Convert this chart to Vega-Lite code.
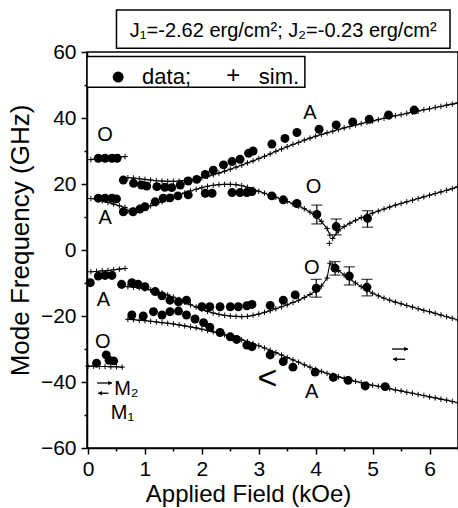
{
"$schema": "https://vega.github.io/schema/vega-lite/v6.json",
"width": 371, "height": 396,
"autosize": {"type": "none"},
"padding": {"left": 87, "top": 52, "right": 0, "bottom": 60},
"config": {"view": {"stroke": "black", "strokeWidth": 1.5}, "font": "Liberation Sans",
  "axis": {"grid": false, "domainColor": "black", "tickColor": "black", "labelColor": "black", "titleColor": "black", "domainWidth": 1.5, "tickWidth": 1.5, "labelFontSize": 21, "titleFontSize": 24, "titleFontWeight": "normal", "labelFlush": false}},
"datasets": {
 "dots": [
  {"x":0.18,"y":27.8},{"x":0.30,"y":27.8},{"x":0.42,"y":27.8},{"x":0.51,"y":27.8},
  {"x":0.18,"y":15.7},{"x":0.30,"y":15.7},{"x":0.42,"y":15.7},{"x":0.50,"y":15.5},
  {"x":0.62,"y":21.2},{"x":0.80,"y":20.2},{"x":0.94,"y":19.7},{"x":1.03,"y":19.4},{"x":1.21,"y":19.2},{"x":1.35,"y":19.0},{"x":1.47,"y":18.9},{"x":1.62,"y":19.7},{"x":1.76,"y":20.9},{"x":1.91,"y":21.4},{"x":2.06,"y":22.9},{"x":2.20,"y":24.2},{"x":2.38,"y":25.8},{"x":2.53,"y":26.8},{"x":2.67,"y":27.5},{"x":2.82,"y":29.3},{"x":2.90,"y":30.0},{"x":3.23,"y":32.1},{"x":3.46,"y":33.8},{"x":3.67,"y":35.6},{"x":4.06,"y":36.6},{"x":4.36,"y":37.9},{"x":4.65,"y":38.8},{"x":4.94,"y":39.6},{"x":5.28,"y":40.9},{"x":5.73,"y":42.4},
  {"x":0.62,"y":11.6},{"x":0.79,"y":11.6},{"x":0.91,"y":12.4},{"x":1.00,"y":13.1},{"x":1.18,"y":14.6},{"x":1.32,"y":15.7},{"x":1.44,"y":15.8},{"x":1.58,"y":16.4},{"x":1.76,"y":16.7},{"x":2.06,"y":17.2},{"x":2.18,"y":17.2},{"x":2.53,"y":17.4},{"x":2.67,"y":17.4},{"x":2.79,"y":17.4},{"x":2.88,"y":17.7},{"x":3.23,"y":16.4},{"x":3.43,"y":15.2},{"x":3.67,"y":14.1},{"x":4.02,"y":10.8},{"x":4.36,"y":7.1},{"x":4.91,"y":9.6},
  {"x":0.04,"y":-9.9},{"x":0.18,"y":-7.9},{"x":0.30,"y":-7.7},{"x":0.42,"y":-7.7},
  {"x":0.59,"y":-10.4},{"x":0.77,"y":-9.9},{"x":0.88,"y":-10.4},{"x":1.00,"y":-11.1},{"x":1.18,"y":-12.6},{"x":1.30,"y":-13.9},{"x":1.44,"y":-15.2},{"x":1.59,"y":-15.7},{"x":1.73,"y":-15.2},{"x":2.00,"y":-17.2},{"x":2.14,"y":-17.2},{"x":2.32,"y":-17.2},{"x":2.50,"y":-17.2},{"x":2.64,"y":-17.2},{"x":2.79,"y":-16.9},{"x":2.88,"y":-16.5},{"x":3.20,"y":-16.8},{"x":3.43,"y":-15.2},{"x":3.64,"y":-13.6},{"x":4.01,"y":-11.6},{"x":4.34,"y":-5.5},{"x":4.59,"y":-7.9},{"x":4.90,"y":-11.3},
  {"x":0.15,"y":-34.3},{"x":0.32,"y":-31.8},{"x":0.37,"y":-33.4},{"x":0.45,"y":-33.6},
  {"x":0.77,"y":-19.7},{"x":0.97,"y":-20.0},{"x":1.15,"y":-18.7},{"x":1.30,"y":-19.7},{"x":1.44,"y":-18.7},{"x":1.59,"y":-18.5},{"x":1.73,"y":-19.7},{"x":1.88,"y":-20.9},{"x":2.03,"y":-22.0},{"x":2.14,"y":-23.4},{"x":2.32,"y":-25.0},{"x":2.50,"y":-26.3},{"x":2.61,"y":-27.1},{"x":2.79,"y":-28.8},{"x":2.88,"y":-29.3},{"x":3.20,"y":-31.8},{"x":3.43,"y":-33.8},{"x":3.60,"y":-35.5},{"x":3.99,"y":-37.0},{"x":4.31,"y":-38.6},{"x":4.57,"y":-39.5},{"x":4.87,"y":-41.2},{"x":5.22,"y":-41.4}
 ],
 "sim": [
  {"c":"a","x":0.05,"y":27.4},{"c":"a","x":0.15,"y":27.6},{"c":"a","x":0.25,"y":27.8},{"c":"a","x":0.35,"y":27.9},{"c":"a","x":0.45,"y":28.1},{"c":"a","x":0.55,"y":28.2},{"c":"a","x":0.65,"y":28.3},
  {"c":"b","x":0.05,"y":15.6},{"c":"b","x":0.15,"y":15.3},{"c":"b","x":0.25,"y":14.9},{"c":"b","x":0.35,"y":14.4},{"c":"b","x":0.45,"y":13.9},{"c":"b","x":0.55,"y":13.4},{"c":"b","x":0.65,"y":12.9},
  {"c":"c","x":0.7,"y":21.9},{"c":"c","x":0.8,"y":21.8},{"c":"c","x":0.9,"y":21.6},{"c":"c","x":1.0,"y":21.4},{"c":"c","x":1.1,"y":21.2},{"c":"c","x":1.2,"y":21.0},{"c":"c","x":1.3,"y":20.9},{"c":"c","x":1.4,"y":20.8},{"c":"c","x":1.5,"y":20.8},{"c":"c","x":1.6,"y":20.9},{"c":"c","x":1.7,"y":21.1},{"c":"c","x":1.8,"y":21.3},{"c":"c","x":1.9,"y":21.6},{"c":"c","x":2.0,"y":21.9},{"c":"c","x":2.1,"y":22.3},{"c":"c","x":2.2,"y":22.8},{"c":"c","x":2.3,"y":23.3},{"c":"c","x":2.4,"y":23.9},{"c":"c","x":2.5,"y":24.5},{"c":"c","x":2.6,"y":25.1},{"c":"c","x":2.7,"y":25.7},{"c":"c","x":2.8,"y":26.4},{"c":"c","x":2.9,"y":27.0},{"c":"c","x":3.0,"y":27.7},{"c":"c","x":3.1,"y":28.4},{"c":"c","x":3.2,"y":29.1},{"c":"c","x":3.3,"y":29.9},{"c":"c","x":3.4,"y":30.6},{"c":"c","x":3.5,"y":31.3},{"c":"c","x":3.6,"y":32.0},{"c":"c","x":3.7,"y":32.6},{"c":"c","x":3.8,"y":33.3},{"c":"c","x":3.9,"y":33.9},{"c":"c","x":4.0,"y":34.5},{"c":"c","x":4.1,"y":35.0},{"c":"c","x":4.2,"y":35.5},{"c":"c","x":4.3,"y":36.0},{"c":"c","x":4.4,"y":36.5},{"c":"c","x":4.5,"y":37.0},{"c":"c","x":4.6,"y":37.4},{"c":"c","x":4.7,"y":37.9},{"c":"c","x":4.8,"y":38.3},{"c":"c","x":4.9,"y":38.7},{"c":"c","x":5.0,"y":39.1},{"c":"c","x":5.1,"y":39.5},{"c":"c","x":5.2,"y":39.9},{"c":"c","x":5.3,"y":40.3},{"c":"c","x":5.4,"y":40.7},{"c":"c","x":5.5,"y":41.0},{"c":"c","x":5.6,"y":41.4},{"c":"c","x":5.7,"y":41.8},{"c":"c","x":5.8,"y":42.1},{"c":"c","x":5.9,"y":42.5},{"c":"c","x":6.0,"y":42.8},{"c":"c","x":6.1,"y":43.2},{"c":"c","x":6.2,"y":43.5},{"c":"c","x":6.3,"y":43.9},{"c":"c","x":6.4,"y":44.2},{"c":"c","x":6.5,"y":44.6},
  {"c":"d","x":0.7,"y":11.8},{"c":"d","x":0.8,"y":12.1},{"c":"d","x":0.9,"y":12.5},{"c":"d","x":1.0,"y":12.9},{"c":"d","x":1.1,"y":13.4},{"c":"d","x":1.2,"y":14.0},{"c":"d","x":1.3,"y":14.6},{"c":"d","x":1.4,"y":15.3},{"c":"d","x":1.5,"y":16.0},{"c":"d","x":1.6,"y":16.7},{"c":"d","x":1.7,"y":17.3},{"c":"d","x":1.8,"y":17.9},{"c":"d","x":1.9,"y":18.4},{"c":"d","x":2.0,"y":18.9},{"c":"d","x":2.1,"y":19.3},{"c":"d","x":2.2,"y":19.6},{"c":"d","x":2.3,"y":19.8},{"c":"d","x":2.4,"y":19.9},{"c":"d","x":2.5,"y":19.9},{"c":"d","x":2.6,"y":19.8},{"c":"d","x":2.7,"y":19.5},{"c":"d","x":2.8,"y":19.0},{"c":"d","x":2.9,"y":18.4},{"c":"d","x":3.0,"y":17.8},{"c":"d","x":3.1,"y":17.2},{"c":"d","x":3.2,"y":16.6},{"c":"d","x":3.3,"y":16.0},{"c":"d","x":3.4,"y":15.3},{"c":"d","x":3.5,"y":14.7},{"c":"d","x":3.6,"y":14.0},{"c":"d","x":3.7,"y":13.3},{"c":"d","x":3.8,"y":12.5},{"c":"d","x":3.9,"y":11.5},{"c":"d","x":4.0,"y":10.3},{"c":"d","x":4.1,"y":8.7},{"c":"d","x":4.2,"y":6.5},{"c":"d","x":4.25,"y":4.5},
  {"c":"e","x":4.3,"y":3.5},{"c":"e","x":4.4,"y":5.8},{"c":"e","x":4.5,"y":7.1},{"c":"e","x":4.6,"y":8.1},{"c":"e","x":4.7,"y":9.0},{"c":"e","x":4.8,"y":9.8},{"c":"e","x":4.9,"y":10.5},{"c":"e","x":5.0,"y":11.2},{"c":"e","x":5.1,"y":11.8},{"c":"e","x":5.2,"y":12.4},{"c":"e","x":5.3,"y":13.0},{"c":"e","x":5.4,"y":13.6},{"c":"e","x":5.5,"y":14.1},{"c":"e","x":5.6,"y":14.6},{"c":"e","x":5.7,"y":15.1},{"c":"e","x":5.8,"y":15.6},{"c":"e","x":5.9,"y":16.1},{"c":"e","x":6.0,"y":16.6},{"c":"e","x":6.1,"y":17.1},{"c":"e","x":6.2,"y":17.6},{"c":"e","x":6.3,"y":18.1},{"c":"e","x":6.4,"y":18.6},{"c":"e","x":6.5,"y":19.2},
  {"c":"s","x":4.24,"y":2.0},
  {"c":"f","x":0.05,"y":-6.6},{"c":"f","x":0.15,"y":-6.5},{"c":"f","x":0.25,"y":-6.3},{"c":"f","x":0.35,"y":-6.2},{"c":"f","x":0.45,"y":-6.0},{"c":"f","x":0.55,"y":-5.8},{"c":"f","x":0.65,"y":-5.6},
  {"c":"g","x":0.6,"y":-11.0},{"c":"g","x":0.7,"y":-11.1},{"c":"g","x":0.8,"y":-11.3},{"c":"g","x":0.9,"y":-11.5},{"c":"g","x":1.0,"y":-11.8},{"c":"g","x":1.1,"y":-12.1},{"c":"g","x":1.2,"y":-12.5},{"c":"g","x":1.3,"y":-13.0},{"c":"g","x":1.4,"y":-13.6},{"c":"g","x":1.5,"y":-14.3},{"c":"g","x":1.6,"y":-15.0},{"c":"g","x":1.7,"y":-15.8},{"c":"g","x":1.8,"y":-16.6},{"c":"g","x":1.9,"y":-17.3},{"c":"g","x":2.0,"y":-18.0},{"c":"g","x":2.1,"y":-18.6},{"c":"g","x":2.2,"y":-19.1},{"c":"g","x":2.3,"y":-19.5},{"c":"g","x":2.4,"y":-19.8},{"c":"g","x":2.5,"y":-20.0},{"c":"g","x":2.6,"y":-20.1},{"c":"g","x":2.7,"y":-20.2},{"c":"g","x":2.8,"y":-20.1},{"c":"g","x":2.9,"y":-19.8},{"c":"g","x":3.0,"y":-19.4},{"c":"g","x":3.1,"y":-18.9},{"c":"g","x":3.2,"y":-18.4},{"c":"g","x":3.3,"y":-17.8},{"c":"g","x":3.4,"y":-17.2},{"c":"g","x":3.5,"y":-16.6},{"c":"g","x":3.6,"y":-15.9},{"c":"g","x":3.7,"y":-15.2},{"c":"g","x":3.8,"y":-14.4},{"c":"g","x":3.9,"y":-13.5},{"c":"g","x":4.0,"y":-12.4},{"c":"g","x":4.1,"y":-10.9},{"c":"g","x":4.2,"y":-8.5},{"c":"g","x":4.25,"y":-4.0},
  {"c":"h","x":4.3,"y":-4.5},{"c":"h","x":4.4,"y":-6.2},{"c":"h","x":4.5,"y":-7.6},{"c":"h","x":4.6,"y":-8.8},{"c":"h","x":4.7,"y":-10.0},{"c":"h","x":4.8,"y":-11.1},{"c":"h","x":4.9,"y":-12.2},{"c":"h","x":5.0,"y":-13.1},{"c":"h","x":5.1,"y":-13.9},{"c":"h","x":5.2,"y":-14.6},{"c":"h","x":5.3,"y":-15.2},{"c":"h","x":5.4,"y":-15.8},{"c":"h","x":5.5,"y":-16.3},{"c":"h","x":5.6,"y":-16.8},{"c":"h","x":5.7,"y":-17.3},{"c":"h","x":5.8,"y":-17.8},{"c":"h","x":5.9,"y":-18.3},{"c":"h","x":6.0,"y":-18.7},{"c":"h","x":6.1,"y":-19.2},{"c":"h","x":6.2,"y":-19.7},{"c":"h","x":6.3,"y":-20.2},{"c":"h","x":6.4,"y":-20.7},{"c":"h","x":6.5,"y":-21.2},
  {"c":"i","x":0.0,"y":-35.2},{"c":"i","x":0.1,"y":-35.2},{"c":"i","x":0.2,"y":-35.3},{"c":"i","x":0.3,"y":-35.3},{"c":"i","x":0.4,"y":-35.4},{"c":"i","x":0.5,"y":-35.4},{"c":"i","x":0.6,"y":-35.5},
  {"c":"j","x":0.7,"y":-21.0},{"c":"j","x":0.8,"y":-21.1},{"c":"j","x":0.9,"y":-21.3},{"c":"j","x":1.0,"y":-21.4},{"c":"j","x":1.1,"y":-21.6},{"c":"j","x":1.2,"y":-21.8},{"c":"j","x":1.3,"y":-22.0},{"c":"j","x":1.4,"y":-22.2},{"c":"j","x":1.5,"y":-22.4},{"c":"j","x":1.6,"y":-22.7},{"c":"j","x":1.7,"y":-23.0},{"c":"j","x":1.8,"y":-23.3},{"c":"j","x":1.9,"y":-23.6},{"c":"j","x":2.0,"y":-24.0},{"c":"j","x":2.1,"y":-24.4},{"c":"j","x":2.2,"y":-24.8},{"c":"j","x":2.3,"y":-25.2},{"c":"j","x":2.4,"y":-25.7},{"c":"j","x":2.5,"y":-26.2},{"c":"j","x":2.6,"y":-26.7},{"c":"j","x":2.7,"y":-27.2},{"c":"j","x":2.8,"y":-27.8},{"c":"j","x":2.9,"y":-28.4},{"c":"j","x":3.0,"y":-29.0},{"c":"j","x":3.1,"y":-29.7},{"c":"j","x":3.2,"y":-30.4},{"c":"j","x":3.3,"y":-31.1},{"c":"j","x":3.4,"y":-31.8},{"c":"j","x":3.5,"y":-32.6},{"c":"j","x":3.6,"y":-33.3},{"c":"j","x":3.7,"y":-34.0},{"c":"j","x":3.8,"y":-34.8},{"c":"j","x":3.9,"y":-35.5},{"c":"j","x":4.0,"y":-36.2},{"c":"j","x":4.1,"y":-36.8},{"c":"j","x":4.2,"y":-37.4},{"c":"j","x":4.3,"y":-37.9},{"c":"j","x":4.4,"y":-38.4},{"c":"j","x":4.5,"y":-38.9},{"c":"j","x":4.6,"y":-39.4},{"c":"j","x":4.7,"y":-39.8},{"c":"j","x":4.8,"y":-40.2},{"c":"j","x":4.9,"y":-40.6},{"c":"j","x":5.0,"y":-41.0},{"c":"j","x":5.1,"y":-41.3},{"c":"j","x":5.2,"y":-41.7},{"c":"j","x":5.3,"y":-42.0},{"c":"j","x":5.4,"y":-42.4},{"c":"j","x":5.5,"y":-42.7},{"c":"j","x":5.6,"y":-43.1},{"c":"j","x":5.7,"y":-43.4},{"c":"j","x":5.8,"y":-43.8},{"c":"j","x":5.9,"y":-44.1},{"c":"j","x":6.0,"y":-44.5},{"c":"j","x":6.1,"y":-44.8},{"c":"j","x":6.2,"y":-45.2},{"c":"j","x":6.3,"y":-45.5},{"c":"j","x":6.4,"y":-45.9},{"c":"j","x":6.5,"y":-46.3}
 ],
 "err": [
  {"x":4.02,"lo":7.9,"hi":13.6},{"x":4.36,"lo":4.6,"hi":9.4},{"x":4.91,"lo":6.9,"hi":11.9},
  {"x":4.01,"lo":-14.3,"hi":-8.9},{"x":4.34,"lo":-7.6,"hi":-3.5},{"x":4.59,"lo":-10.6,"hi":-5.1},{"x":4.90,"lo":-13.9,"hi":-8.9}
 ],
 "ann": [
  {"x":0.3,"y":34.8,"t":"O"},{"x":0.3,"y":9.6,"t":"A"},{"x":3.9,"y":41.5,"t":"A"},{"x":3.96,"y":19.2,"t":"O"},
  {"x":3.93,"y":-5.5,"t":"O"},{"x":0.27,"y":-15.2,"t":"A"},{"x":0.26,"y":-27.8,"t":"O"},{"x":3.93,"y":-42.9,"t":"A"}
 ],
 "mlab": [
  {"x":0.46,"y":-42.1,"t":"M₂"},{"x":0.40,"y":-49.4,"t":"M₁"}
 ],
 "arrows": [
  {"x":0.16,"x2":0.42,"hx":0.39,"y":-40.3,"d":"r"},
  {"x":0.18,"x2":0.36,"hx":0.21,"y":-43.4,"d":"l"},
  {"x":5.34,"x2":5.62,"hx":5.59,"y":-30.0,"d":"r"},
  {"x":5.36,"x2":5.57,"hx":5.39,"y":-33.1,"d":"l"}
 ],
 "boxes": [
  {"x":0.50,"x2":6.36,"y":61.1,"y2":72.7},
  {"x":-0.018,"x2":3.81,"y":49.3,"y2":58.6}
 ],
 "legtext": [
  {"x":0.95,"y":52.4,"t":"data;"},{"x":3.0,"y":52.4,"t":"sim."}
 ],
 "legdot": [{"x":0.53,"y":52.4}],
 "legplus": [{"x":2.55,"y":52.6,"t":"+"}],
 "jtext": [{"x":3.43,"y":66.4,"t":"J₁=-2.62 erg/cm²; J₂=-0.23 erg/cm²"}],
 "chev": [{"x":3.15,"y":-39.0,"t":"<"}]
},
"resolve": {"axis": {"x": "independent", "y": "independent"}},
"layer": [
 {"data": {"name": "dots"}, "mark": {"type": "point", "opacity": 0},
  "encoding": {
   "x": {"field": "x", "type": "quantitative", "scale": {"domain": [-0.018, 6.5], "nice": false, "zero": false},
     "axis": {"orient": "bottom", "values": [0.5,1.5,2.5,3.5,4.5,5.5,6.5], "labels": false, "domain": false, "tickSize": 3, "title": null}},
   "y": {"field": "y", "type": "quantitative", "scale": {"domain": [-60, 60], "nice": false, "zero": false},
     "axis": {"orient": "left", "values": [-50,-30,-10,10,30,50], "labels": false, "domain": false, "tickSize": 3, "title": null}}
  }},
 {"layer": [
  {"data": {"name": "sim"}, "mark": {"type": "line", "color": "black", "strokeWidth": 1.1},
   "encoding": {
    "x": {"field": "x", "type": "quantitative", "scale": {"domain": [-0.018, 6.5], "nice": false, "zero": false},
      "axis": {"orient": "bottom", "values": [0,1,2,3,4,5,6], "format": "d", "tickSize": 6, "labelPadding": 4, "title": "Applied Field (kOe)", "titleX": 161, "titleY": 46, "titleBaseline": "middle", "titleAlign": "center"}},
    "y": {"field": "y", "type": "quantitative", "scale": {"domain": [-60, 60], "nice": false, "zero": false},
      "axis": {"orient": "left", "values": [-60,-40,-20,0,20,40,60], "labelExpr": "datum.value < 0 ? '−' + format(-datum.value, 'd') : format(datum.value, 'd')", "tickSize": 6, "labelPadding": 5, "title": "Mode Frequency (GHz)", "titleFontSize": 26, "titleX": -67, "titleY": 188, "titleBaseline": "middle", "titleAlign": "center", "titleAngle": -90}},
    "detail": {"field": "c"}
   }},
  {"data": {"name": "sim"}, "mark": {"type": "point", "shape": "M-1,0H1M0,-1V1", "size": 30, "filled": false, "color": "black", "strokeWidth": 1, "opacity": 1},
   "encoding": {"x": {"field": "x", "type": "quantitative"}, "y": {"field": "y", "type": "quantitative"}}},
  {"data": {"name": "err"}, "mark": {"type": "rule", "color": "black", "strokeWidth": 1.2},
   "encoding": {"x": {"field": "x", "type": "quantitative"}, "y": {"field": "lo", "type": "quantitative"}, "y2": {"field": "hi"}}},
  {"data": {"name": "err"}, "mark": {"type": "tick", "orient": "horizontal", "color": "black", "size": 11, "thickness": 1.3},
   "encoding": {"x": {"field": "x", "type": "quantitative"}, "y": {"field": "lo", "type": "quantitative"}}},
  {"data": {"name": "err"}, "mark": {"type": "tick", "orient": "horizontal", "color": "black", "size": 11, "thickness": 1.3},
   "encoding": {"x": {"field": "x", "type": "quantitative"}, "y": {"field": "hi", "type": "quantitative"}}},
  {"data": {"name": "dots"}, "mark": {"type": "circle", "size": 80, "color": "black", "opacity": 1},
   "encoding": {"x": {"field": "x", "type": "quantitative"}, "y": {"field": "y", "type": "quantitative"}}},
  {"data": {"name": "arrows"}, "mark": {"type": "rule", "color": "black", "strokeWidth": 1.3},
   "encoding": {"x": {"field": "x", "type": "quantitative"}, "x2": {"field": "x2"}, "y": {"field": "y", "type": "quantitative"}}},
  {"data": {"name": "arrows"}, "mark": {"type": "point", "filled": true, "color": "black", "size": 22, "opacity": 1},
   "encoding": {"x": {"field": "hx", "type": "quantitative"}, "y": {"field": "y", "type": "quantitative"},
     "shape": {"field": "d", "type": "nominal", "scale": {"domain": ["r", "l"], "range": ["triangle-right", "triangle-left"]}, "legend": null}}},
  {"data": {"name": "boxes"}, "mark": {"type": "rect", "fill": "white", "stroke": "black", "strokeWidth": 1.5},
   "encoding": {"x": {"field": "x", "type": "quantitative"}, "x2": {"field": "x2"}, "y": {"field": "y", "type": "quantitative"}, "y2": {"field": "y2"}}},
  {"data": {"name": "ann"}, "mark": {"type": "text", "fontSize": 20, "align": "center", "baseline": "middle", "color": "black"},
   "encoding": {"x": {"field": "x", "type": "quantitative"}, "y": {"field": "y", "type": "quantitative"}, "text": {"field": "t"}}},
  {"data": {"name": "mlab"}, "mark": {"type": "text", "fontSize": 20, "align": "left", "baseline": "middle", "color": "black"},
   "encoding": {"x": {"field": "x", "type": "quantitative"}, "y": {"field": "y", "type": "quantitative"}, "text": {"field": "t"}}},
  {"data": {"name": "legtext"}, "mark": {"type": "text", "fontSize": 22, "align": "left", "baseline": "middle", "color": "black"},
   "encoding": {"x": {"field": "x", "type": "quantitative"}, "y": {"field": "y", "type": "quantitative"}, "text": {"field": "t"}}},
  {"data": {"name": "legdot"}, "mark": {"type": "circle", "size": 120, "color": "black", "opacity": 1},
   "encoding": {"x": {"field": "x", "type": "quantitative"}, "y": {"field": "y", "type": "quantitative"}}},
  {"data": {"name": "legplus"}, "mark": {"type": "text", "fontSize": 24, "align": "center", "baseline": "middle", "color": "black"},
   "encoding": {"x": {"field": "x", "type": "quantitative"}, "y": {"field": "y", "type": "quantitative"}, "text": {"field": "t"}}},
  {"data": {"name": "jtext"}, "mark": {"type": "text", "fontSize": 20, "align": "center", "baseline": "middle", "color": "black"},
   "encoding": {"x": {"field": "x", "type": "quantitative"}, "y": {"field": "y", "type": "quantitative"}, "text": {"field": "t"}}},
  {"data": {"name": "chev"}, "mark": {"type": "text", "fontSize": 34, "align": "center", "baseline": "middle", "color": "black", "fontWeight": 300},
   "encoding": {"x": {"field": "x", "type": "quantitative"}, "y": {"field": "y", "type": "quantitative"}, "text": {"field": "t"}}}
 ]}
]
}
